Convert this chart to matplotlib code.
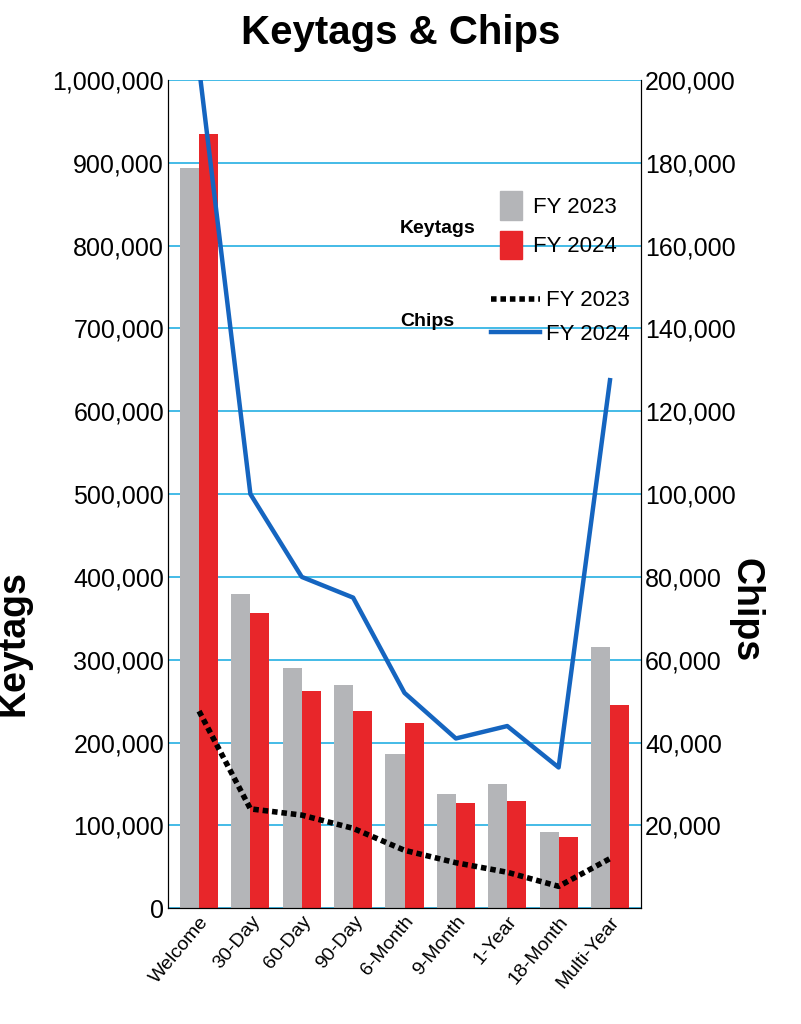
import matplotlib
matplotlib.use("Agg")
import matplotlib.pyplot as plt
from matplotlib.lines import Line2D
from matplotlib.patches import Patch
import numpy as np

categories = ["Welcome", "30-Day", "60-Day", "90-Day", "6-Month", "9-Month", "1-Year", "18-Month", "Multi-Year"]
keytags_2023 = [894000, 379000, 290000, 269000, 186000, 138000, 150000, 92000, 315000]
keytags_2024 = [935000, 357000, 262000, 238000, 224000, 127000, 129000, 86000, 245000]
chips_2023 = [47600, 24000, 22500, 19300, 14000, 11000, 8700, 5300, 12000]
chips_2024 = [203000, 100000, 80000, 75000, 52000, 41000, 44000, 34000, 127500]

plt.rcParams["font.family"] = ["Liberation Sans Narrow", "Liberation Sans", "DejaVu Sans"]
fig = plt.figure(figsize=(8.01, 10.24), dpi=100)
ax = fig.add_axes([0.21, 0.113, 0.59, 0.809])
x = np.arange(len(categories))
w = 0.37
ax.set_axisbelow(True)
ax.yaxis.grid(True, color="#35b5e5", lw=1.3)
ax.bar(x - w/2, keytags_2023, w, color="#b4b5b8")
ax.bar(x + w/2, keytags_2024, w, color="#e8262a")
ax.set_ylim(0, 1000000)
ax.set_xlim(-0.6, len(categories) - 0.4)
ax.set_yticks(np.arange(0, 1000001, 100000))
ax.set_yticklabels([f"{v:,}" for v in range(0, 1000001, 100000)], fontsize=18)
ax.set_xticks(x)
ax.set_xticklabels(categories, rotation=50, ha="right", rotation_mode="anchor", fontsize=14)
ax.tick_params(axis="x", length=0)
ax.tick_params(axis="y", length=0, pad=3)
ax.spines["top"].set_visible(False)
ax.set_ylabel("Keytags", fontsize=27, fontweight="bold", family="Liberation Sans", labelpad=4)
ax.yaxis.set_label_coords(-0.29, 0.32)

ax2 = ax.twinx()
ax2.plot(x, chips_2023, color="black", lw=4, ls=(0, (1, 0.7)))
ax2.plot(x, chips_2024, color="#1565c0", lw=3.2, clip_on=True)
ax2.set_ylim(0, 200000)
ticks = list(range(20000, 200001, 20000))
ax2.set_yticks(ticks)
ax2.set_yticklabels([f"{v:,}" for v in ticks], fontsize=18)
ax2.tick_params(axis="y", length=0, pad=3)
ax2.spines["top"].set_visible(False)
ax2.set_ylabel("Chips", fontsize=27, fontweight="bold", family="Liberation Sans", rotation=270, labelpad=30)
ax2.yaxis.set_label_coords(1.26, 0.36)

fig.text(0.5, 0.968, "Keytags & Chips", ha="center", va="center", fontsize=29, fontweight="bold", family="Liberation Sans")

h1 = [Patch(color="#b4b5b8"), Patch(color="#e8262a")]
leg1 = ax2.legend(h1, ["FY 2023", "FY 2024"], loc="upper left", bbox_to_anchor=(0.66, 0.89),
                  frameon=False, fontsize=16, handlelength=1.0, handleheight=1.6, labelspacing=0.5, handletextpad=0.5)
ax2.add_artist(leg1)
h2 = [Line2D([], [], color="black", lw=4, ls=(0, (1, 0.7))), Line2D([], [], color="#1565c0", lw=3.2)]
ax2.legend(h2, ["FY 2023", "FY 2024"], loc="upper left", bbox_to_anchor=(0.64, 0.77),
           frameon=False, fontsize=16, handlelength=2.2, labelspacing=0.55, handletextpad=0.3)
ax2.text(0.49, 0.815, "Keytags", transform=ax2.transAxes, fontsize=14, fontweight="bold", family="Liberation Sans")
ax2.text(0.49, 0.703, "Chips", transform=ax2.transAxes, fontsize=14, fontweight="bold", family="Liberation Sans")
fig.savefig("out.png", dpi=100, facecolor="white")
